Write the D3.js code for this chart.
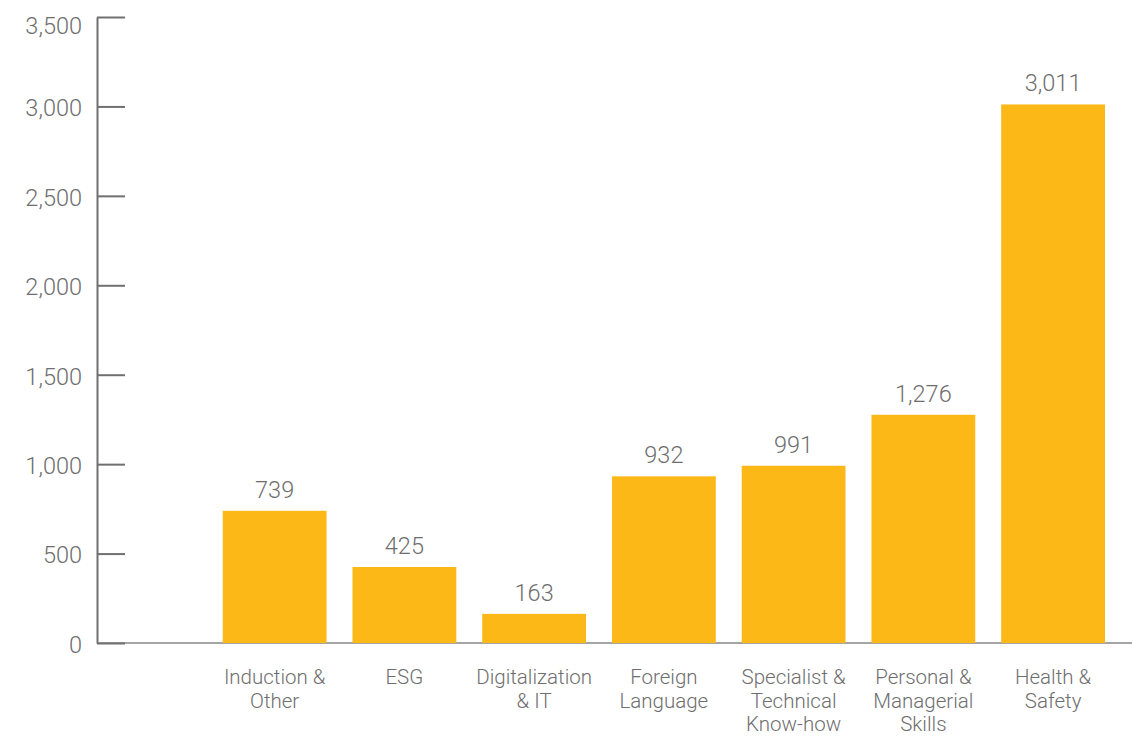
<!DOCTYPE html>
<html>
<head>
<meta charset="utf-8">
<script src="https://cdn.jsdelivr.net/npm/d3@7"></script>
<style>
  body { margin: 0; background: #ffffff; }
  svg text { font-family: Roboto, "Liberation Sans", Arial, sans-serif; font-weight: 300; fill: #6e6e6e; }
</style>
</head>
<body>
<svg id="chart" width="1132" height="736"></svg>
<script>
// Training hours by topic (line breaks mark where labels wrap)
const categories = [
  "Induction &\nOther",
  "ESG",
  "Digitalization\n& IT",
  "Foreign\nLanguage",
  "Specialist &\nTechnical\nKnow-how",
  "Personal &\nManagerial\nSkills",
  "Health &\nSafety"
];
const values = [739, 425, 163, 932, 991, 1276, 3011];
const yTicks = [0, 500, 1000, 1500, 2000, 2500, 3000, 3500];

const svg = d3.select("#chart");

// A blank leading slot keeps the first bar clear of the axis
const x = d3.scaleBand()
  .domain(["", ...categories])
  .range([93, 1105])
  .paddingInner(0.2)
  .paddingOuter(0);

const y = d3.scaleLinear()
  .domain([0, 3500])
  .range([643, 17]);

const fmt = d3.format(",");

// Baseline running the full width
svg.append("line")
  .attr("x1", 97).attr("x2", 1132)
  .attr("y1", y(0)).attr("y2", y(0))
  .attr("stroke", "#878787")
  .attr("stroke-width", 1.5);

// Bars
svg.append("g").selectAll("rect")
  .data(values)
  .join("rect")
  .attr("x", (d, i) => x(categories[i]))
  .attr("width", x.bandwidth())
  .attr("y", d => y(d))
  .attr("height", d => y(0) - y(d))
  .attr("fill", "#FBB816");

// Value labels above the bars
svg.append("g").selectAll("text")
  .data(values)
  .join("text")
  .attr("x", (d, i) => x(categories[i]) + x.bandwidth() / 2)
  .attr("y", d => y(d) - 13)
  .attr("text-anchor", "middle")
  .style("font-size", "23.5px")
  .text(d => fmt(d));

// Y axis: ticks point into the plot, labels on the left
const yAxis = svg.append("g")
  .attr("transform", "translate(97,0)")
  .call(d3.axisLeft(y)
    .tickValues(yTicks)
    .tickSize(-28)
    .tickSizeOuter(0)
    .tickPadding(15)
    .tickFormat(fmt));

yAxis.select(".domain").attr("stroke", "#707070").attr("stroke-width", 2);
yAxis.selectAll(".tick line").attr("stroke", "#707070").attr("stroke-width", 2);
yAxis.selectAll(".tick text")
  .style("font-size", "23.5px")
  .attr("fill", null)
  .attr("dy", d => d === 3500 ? "0.72em" : "0.4em");

// Category labels, wrapped onto several lines
const catLabels = svg.append("g").selectAll("text")
  .data(categories)
  .join("text")
  .attr("text-anchor", "middle")
  .style("font-size", "20.5px")
  .attr("transform", d => `translate(${x(d) + x.bandwidth() / 2},684)`);

catLabels.selectAll("tspan")
  .data(d => d.split("\n"))
  .join("tspan")
  .attr("x", 0)
  .attr("y", (d, i) => i * 23.5)
  .text(d => d);
</script>
</body>
</html>
